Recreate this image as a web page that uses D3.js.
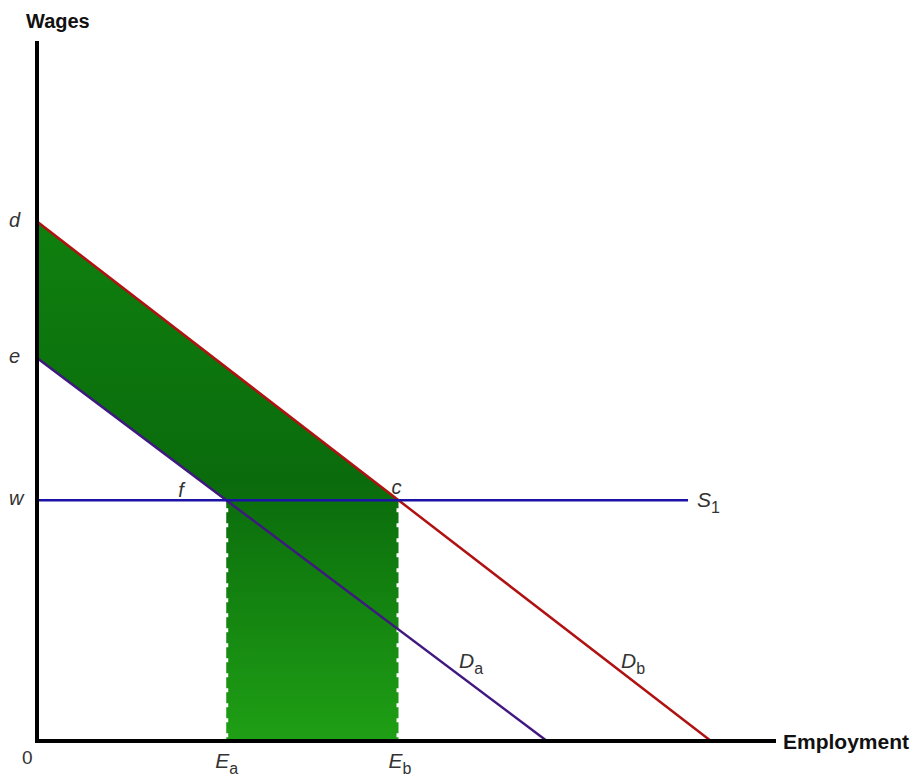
<!DOCTYPE html>
<html>
<head>
<meta charset="utf-8">
<script src="https://cdn.jsdelivr.net/npm/d3@7"></script>
<style>
  body { margin: 0; background: #fff; }
  text { font-family: "Liberation Sans", Arial, sans-serif; }
</style>
</head>
<body>
<div id="container"></div>
<script>
let w = 915;
let h = 778;

// data (employment, wage) in chart units
let demandB = [[0, 74.2], [91.2, 0]];   // Db
let demandA = [[0, 54.7], [69.0, 0]];   // Da
let wage = 34.4;                         // w / S1
let supplyEnd = 88.1;                    // where S1 line stops
let wageTicks = [
  {label: "d", value: 74.2},
  {label: "e", value: 54.7},
  {label: "w", value: 34.4}
];

let xScale = d3.scaleLinear().domain([0, 100]).range([37, 776]);
let yScale = d3.scaleLinear().domain([0, 100]).range([741, 41]);

// x where a demand line meets a given wage
function atWage(line, v){
  let x0 = line[0][0], y0 = line[0][1], x1 = line[1][0], y1 = line[1][1];
  return x0 + (v - y0) * (x1 - x0) / (y1 - y0);
}
let Eb = atWage(demandB, wage);
let Ea = atWage(demandA, wage);

let viz = d3.select("#container")
  .append("svg")
    .attr("width", w)
    .attr("height", h)
    .style("background-color", "white");

let defs = viz.append("defs");
let grad = defs.append("linearGradient")
    .attr("id", "greenFill")
    .attr("gradientUnits", "userSpaceOnUse")
    .attr("x1", 0).attr("y1", yScale(demandB[0][1]))
    .attr("x2", 0).attr("y2", yScale(0));
grad.append("stop").attr("offset", "0%").attr("stop-color", "#0f800f");
grad.append("stop").attr("offset", "50%").attr("stop-color", "#0a6b0c");
grad.append("stop").attr("offset", "100%").attr("stop-color", "#1f9f15");

// shaded area: between Db and Da up to c, plus the Ea-Eb block
let area = [
  [0, demandB[0][1]],
  [Eb, wage],
  [Eb, 0],
  [Ea, 0],
  [Ea, wage],
  [0, demandA[0][1]]
];
let line = d3.line().x(d => xScale(d[0])).y(d => yScale(d[1]));

viz.append("path")
    .attr("d", line(area) + "Z")
    .attr("fill", "url(#greenFill)");

// notched edges of the block
[Ea, Eb].forEach(function(e){
  viz.append("line")
      .attr("x1", xScale(e)).attr("x2", xScale(e))
      .attr("y1", yScale(wage) + 2).attr("y2", yScale(0))
      .attr("stroke", "white")
      .attr("stroke-width", 4)
      .attr("stroke-dasharray", "4,11")
      .attr("stroke-dashoffset", -6);
});

// lines
viz.append("path").attr("d", line(demandB))
    .attr("fill", "none").attr("stroke", "#b01212").attr("stroke-width", 2.5);
viz.append("path").attr("d", line(demandA))
    .attr("fill", "none").attr("stroke", "#3f1880").attr("stroke-width", 2.5);
viz.append("path").attr("d", line([[0, wage], [supplyEnd, wage]]))
    .attr("fill", "none").attr("stroke", "#1c12a6").attr("stroke-width", 2.5);

// axes (plain thick lines)
viz.append("line")
    .attr("x1", xScale(0)).attr("x2", xScale(0))
    .attr("y1", yScale(100)).attr("y2", yScale(0) + 2)
    .attr("stroke", "black").attr("stroke-width", 4);
viz.append("line")
    .attr("x1", xScale(0) - 2).attr("x2", xScale(100))
    .attr("y1", yScale(0)).attr("y2", yScale(0))
    .attr("stroke", "black").attr("stroke-width", 4);

viz.append("text").text("Wages")
    .attr("x", 26).attr("y", 28)
    .style("font-weight", "bold").style("font-size", "20px").attr("fill", "#111");
viz.append("text").text("Employment")
    .attr("x", 783).attr("y", 749)
    .style("font-weight", "bold").style("font-size", "21px").attr("fill", "#111");

// wage labels
viz.selectAll(".wlab").data(wageTicks).enter()
  .append("text")
    .attr("class", "wlab")
    .text(d => d.label)
    .attr("x", 9)
    .attr("y", d => yScale(d.value) + 5)
    .style("font-style", "italic").style("font-size", "20px").attr("fill", "#333");

viz.append("text").text("0")
    .attr("x", 22).attr("y", 764)
    .style("font-size", "19px").attr("fill", "#333");

viz.append("text").text("f")
    .attr("x", xScale(Ea) - 48).attr("y", yScale(wage) - 3)
    .style("font-style", "italic").style("font-size", "20px").attr("fill", "#333");
viz.append("text").text("c")
    .attr("x", xScale(Eb) - 7).attr("y", yScale(wage) - 6)
    .style("font-style", "italic").style("font-size", "20px").attr("fill", "#333");

// subscripted labels
function subLabel(x, y, main, sub){
  let t = viz.append("text").attr("x", x).attr("y", y)
      .style("font-size", "21px").attr("fill", "#333");
  t.append("tspan").text(main).style("font-style", "italic");
  t.append("tspan").text(sub).attr("dy", 6).style("font-size", "16px");
}
subLabel(xScale(Ea) - 11, 768, "E", "a");
subLabel(xScale(Eb) - 10, 768, "E", "b");
subLabel(459, 668, "D", "a");
subLabel(621, 668, "D", "b");
subLabel(xScale(supplyEnd) + 9, 507, "S", "1");
</script>
</body>
</html>
